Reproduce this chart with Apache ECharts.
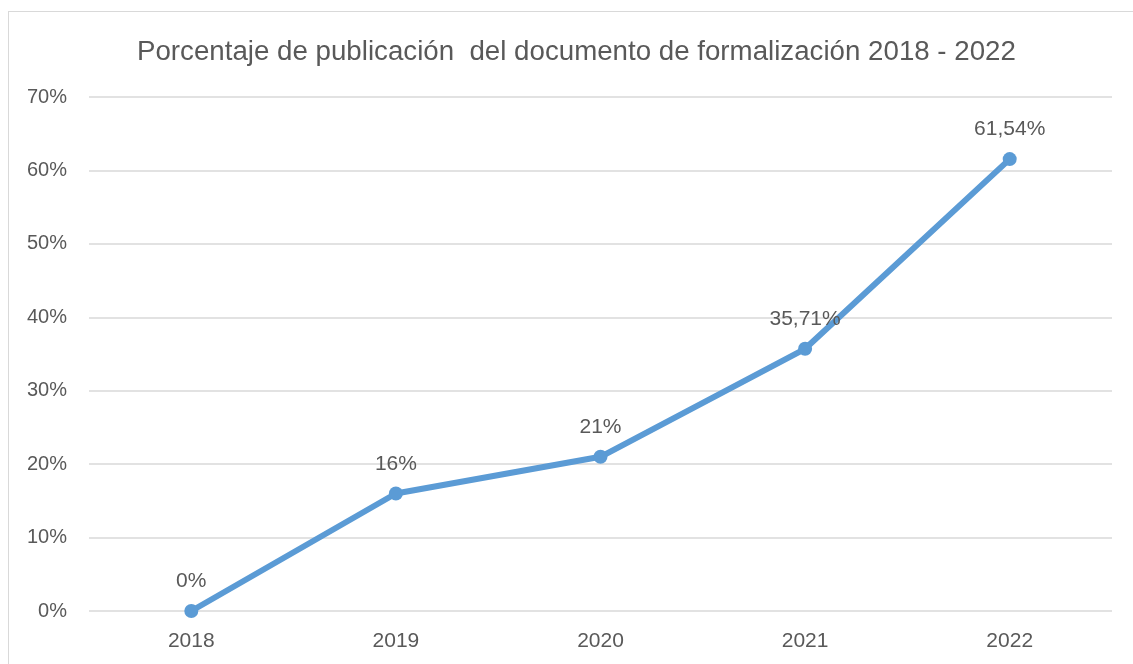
<!DOCTYPE html>
<html>
<head>
<meta charset="utf-8">
<script src="https://cdn.jsdelivr.net/npm/echarts@6/dist/echarts.min.js"></script>
<style>
  html, body { margin: 0; padding: 0; background: #fff; }
  .frame {
    position: absolute; left: 8px; top: 11px; width: 1140px; height: 670px;
    border: 1px solid #d9d9d9; box-sizing: border-box;
  }
  #chart { position: absolute; left: 0; top: 0; width: 1133px; height: 664px; }
</style>
</head>
<body>
<div class="frame"></div>
<div id="chart"></div>
<script>
// 年份
const years = ['2018', '2019', '2020', '2021', '2022']
// 百分比值
const percentValues = [0, 16, 21, 35.71, 61.54]
// 数据标签文字
const pointLabels = ['0%', '16%', '21%', '35,71%', '61,54%']
// y轴刻度
const yTicks = [0, 10, 20, 30, 40, 50, 60, 70]

const textColor = '#595959'
const lineColor = '#5b9bd5'

const myChart = echarts.init(document.getElementById('chart'))
myChart.setOption({
  animation: false,
  title: {
    text: 'Porcentaje de publicación  del documento de formalización 2018 - 2022',
    left: 132,
    top: 33,
    textStyle: {
      fontFamily: 'Liberation Sans',
      fontWeight: 'normal',
      fontSize: 27.7,
      color: textColor
    }
  },
  grid: {
    left: 89,
    right: 21,
    top: 97,
    bottom: 53
  },
  xAxis: {
    type: 'category',
    data: years,
    boundaryGap: true,
    axisLine: { show: false },
    axisTick: { show: false },
    axisLabel: {
      margin: 20,
      fontFamily: 'Liberation Sans',
      fontSize: 21,
      color: textColor
    }
  },
  yAxis: {
    type: 'value',
    min: yTicks[0],
    max: yTicks[yTicks.length - 1],
    interval: 10,
    axisLine: { show: false },
    axisTick: { show: false },
    axisLabel: {
      margin: 22,
      fontFamily: 'Liberation Sans',
      fontSize: 20,
      color: textColor,
      formatter: '{value}%'
    },
    splitLine: {
      lineStyle: { color: '#d9d9d9', width: 1.5 }
    }
  },
  series: [
    {
      type: 'line',
      data: percentValues,
      symbol: 'circle',
      symbolSize: 14,
      lineStyle: { color: lineColor, width: 6 },
      itemStyle: { color: lineColor },
      label: {
        show: true,
        position: 'top',
        distance: 12,
        fontFamily: 'Liberation Sans',
        fontSize: 21,
        color: textColor,
        formatter: p => pointLabels[p.dataIndex]
      }
    }
  ]
})
</script>
</body>
</html>
